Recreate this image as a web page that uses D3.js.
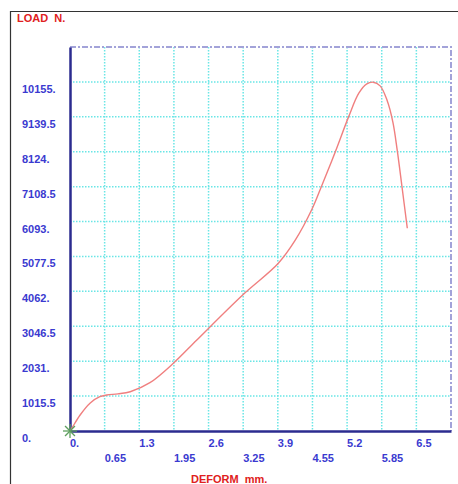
<!DOCTYPE html>
<html>
<head>
<meta charset="utf-8">
<script src="https://cdn.jsdelivr.net/npm/d3@7"></script>
<style>
  body { margin: 0; background: #fff; }
  text { font-family: "Liberation Sans", Arial, sans-serif; font-weight: bold; white-space: pre; }
</style>
</head>
<body>
<div id="chart"></div>
<script>
"use strict";

// tick labels as printed on the chart
const xTicks = [0, 0.65, 1.3, 1.95, 2.6, 3.25, 3.9, 4.55, 5.2, 5.85, 6.5];
const xLabels = ["0.", "0.65", "1.3", "1.95", "2.6", "3.25", "3.9", "4.55", "5.2", "5.85", "6.5"];
const yTicks = [0, 1015.5, 2031, 3046.5, 4062, 5077.5, 6093, 7108.5, 8124, 9139.5, 10155];
const yLabels = ["0.", "1015.5", "2031.", "3046.5", "4062.", "5077.5", "6093.", "7108.5", "8124.", "9139.5", "10155."];

// load-deformation curve
const deform = [0, 0.04, 0.19, 0.38, 0.56, 0.69, 0.9, 1.13, 1.5, 1.94, 2.38, 3.24, 3.91, 4.23, 4.54, 4.73, 4.98, 5.23, 5.42, 5.57, 5.69, 5.82, 5.95, 6.06, 6.14, 6.23, 6.33];
const load = [0, 96, 466, 815, 998, 1047, 1080, 1143, 1405, 1970, 2648, 3957, 4880, 5558, 6449, 7158, 8127, 9145, 9826, 10097, 10146, 10040, 9620, 8980, 8176, 7108, 5898];

const W = 458, H = 484;
const pL = 70, pT = 47, pR = 451, pB = 431;

const svg = d3.select("#chart").append("svg")
    .attr("width", W)
    .attr("height", H);

// outer frame (only left and top are visible)
svg.append("path")
    .attr("d", `M10.5,${H} L10.5,11.5 L${W},11.5`)
    .attr("fill", "none")
    .attr("stroke", "#333")
    .attr("stroke-width", 1.2);

const x = d3.scaleLinear().domain([0, 7.15]).range([pL, pR]);
const y = d3.scaleLinear().domain([0, 11170.5]).range([pB, pT]);

// grid
const grid = svg.append("g")
    .attr("stroke", "#6ae6e6")
    .attr("stroke-width", 1.5)
    .attr("stroke-dasharray", "1.5,1.5");

grid.selectAll("line.v")
  .data(xTicks.slice(1))
  .join("line")
    .attr("class", "v")
    .attr("x1", d => x(d)).attr("x2", d => x(d))
    .attr("y1", pT).attr("y2", pB);

grid.selectAll("line.h")
  .data(yTicks.slice(1))
  .join("line")
    .attr("class", "h")
    .attr("x1", pL).attr("x2", pR)
    .attr("y1", d => y(d)).attr("y2", d => y(d));

// top and right border, dash-dot
svg.append("path")
    .attr("d", `M${pL},${pT} L${pR},${pT} L${pR},${pB}`)
    .attr("fill", "none")
    .attr("stroke", "#a3a3d9")
    .attr("stroke-width", 2)
    .attr("stroke-dasharray", "6,2,2,2");

// axes
svg.append("g")
    .attr("transform", `translate(0,${pB})`)
    .call(d3.axisBottom(x).tickValues([]).tickSizeOuter(0))
    .call(g => g.select(".domain").attr("stroke", "#2b2b8f").attr("stroke-width", 2.5));

svg.append("g")
    .attr("transform", `translate(${pL},0)`)
    .call(d3.axisLeft(y).tickValues([]).tickSizeOuter(0))
    .call(g => g.select(".domain").attr("stroke", "#2b2b8f").attr("stroke-width", 2.5));

// tick labels
svg.append("g").selectAll("text")
  .data(xTicks)
  .join("text")
    .attr("x", d => x(d))
    .attr("y", (d, i) => i % 2 === 0 ? 447 : 462)
    .attr("fill", "#3a3ad0")
    .style("font-size", "11px")
    .text((d, i) => xLabels[i]);

svg.append("g").selectAll("text")
  .data(yTicks)
  .join("text")
    .attr("x", 22)
    .attr("y", d => y(d) + 11)
    .attr("fill", "#3a3ad0")
    .style("font-size", "11px")
    .text((d, i) => yLabels[i]);

// axis titles
svg.append("text")
    .attr("x", 17).attr("y", 22)
    .attr("fill", "#e02020")
    .style("font-size", "11px")
    .text("LOAD  N.");

svg.append("text")
    .attr("x", 191).attr("y", 483)
    .attr("fill", "#e02020")
    .style("font-size", "11px")
    .text("DEFORM  mm.");

// curve
const line = d3.line()
    .x((d, i) => x(deform[i]))
    .y(d => y(d))
    .curve(d3.curveCatmullRom.alpha(0.5));

svg.append("path")
    .datum(load)
    .attr("d", line)
    .attr("fill", "none")
    .attr("stroke", "#f07f7f")
    .attr("stroke-width", 1.4);

// origin marker
const star = svg.append("g")
    .attr("transform", `translate(${x(0)},${y(0)})`)
    .attr("stroke", "#5f9f5f")
    .attr("stroke-width", 1.3);
[0, 45, 90, 135].forEach(a => {
  const r = 7, t = a * Math.PI / 180;
  star.append("line")
      .attr("x1", -r * Math.cos(t)).attr("y1", -r * Math.sin(t))
      .attr("x2", r * Math.cos(t)).attr("y2", r * Math.sin(t));
});
</script>
</body>
</html>
